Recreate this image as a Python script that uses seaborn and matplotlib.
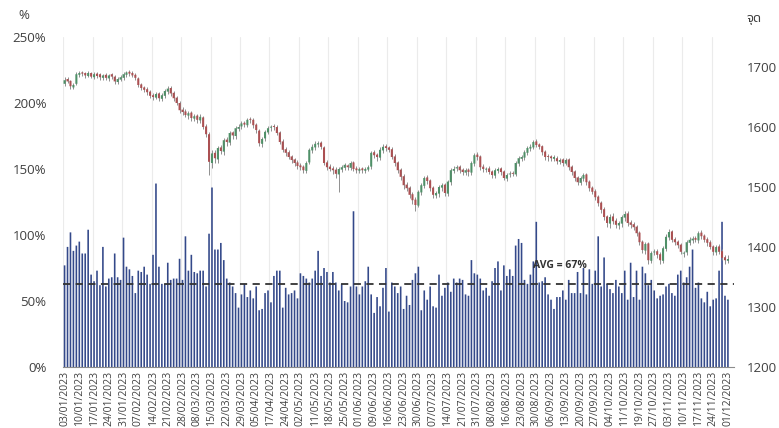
import matplotlib
matplotlib.use("Agg")
import matplotlib.pyplot as plt
import seaborn as sns
import numpy as np
import pandas as pd

# daily turnover (% of average) - left axis
turnover = [77, 91, 102, 88, 92, 95, 86, 86, 104, 70, 65, 73, 62, 91, 61, 67, 68, 86, 68, 66,
            98, 76, 74, 69, 56, 73, 72, 76, 70, 63, 85, 139, 76, 63, 63, 79, 66, 67,
            67, 82, 66, 99, 73, 85, 72, 71, 73, 73, 61, 101, 136, 89, 89, 94, 81, 67, 64, 61,
            56, 45, 55, 63, 53, 58, 52, 61, 43, 44, 56, 58, 49, 69, 73, 73, 45,
            60, 55, 56, 58, 52, 71, 69, 67, 64, 67, 73, 88, 69, 75, 72, 64, 72, 64, 58, 63,
            50, 49, 61, 118, 61, 55, 61, 65, 76, 55, 41, 53, 46, 60, 75, 42, 64, 61,
            56, 61, 44, 54, 47, 66, 71, 76, 43, 58, 51, 61, 46, 45, 70, 54, 60, 64, 57,
            67, 64, 67, 66, 55, 54, 81, 71, 70, 67, 58, 60, 54, 65, 75, 80, 58, 77, 69,
            74, 69, 92, 97, 94, 66, 63, 70, 80, 110, 64, 65, 68, 55, 51, 44, 53, 53, 58,
            51, 66, 56, 56, 72, 56, 75, 55, 74, 63, 73, 99, 61, 83, 63, 59, 56, 66, 61,
            56, 73, 51, 79, 53, 73, 51, 76, 71, 62, 66, 58, 52, 54, 55, 61, 63, 56, 54, 70,
            73, 64, 68, 76, 89, 60, 64, 52, 49, 57, 46, 51, 52, 73, 110, 54, 51]

# SET index OHLC - right axis
idx_open = [1672, 1680, 1677, 1666, 1672, 1687, 1691, 1690, 1685, 1690,
            1683, 1689, 1688, 1682, 1687, 1681, 1688, 1684, 1675,
            1679, 1682, 1687, 1692, 1690, 1687, 1681, 1671, 1666, 1663,
            1659, 1653, 1649, 1656, 1647, 1652, 1659, 1665, 1657, 1649,
            1640, 1629, 1626, 1619, 1624, 1614, 1619, 1611, 1616, 1601,
            1588, 1540, 1557, 1546, 1566, 1559, 1579, 1574, 1591, 1585,
            1597, 1601, 1607, 1603, 1613, 1612, 1604, 1594, 1572, 1581,
            1591, 1599, 1601, 1600, 1591, 1576, 1563, 1558, 1551, 1546,
            1541, 1536, 1534, 1527, 1541, 1561, 1566, 1571, 1574, 1566,
            1541, 1534, 1531, 1529, 1521, 1529, 1532, 1536, 1532,
            1541, 1531, 1527, 1531, 1527, 1529, 1534, 1558, 1554, 1549,
            1561, 1568, 1566, 1563, 1551, 1541, 1529, 1518, 1504, 1499,
            1488, 1479, 1469, 1491, 1502, 1516, 1511, 1499, 1486, 1489,
            1499, 1504, 1489, 1508, 1527, 1531, 1534, 1529, 1524,
            1529, 1524, 1539, 1554, 1551, 1534, 1529, 1531, 1526, 1519,
            1527, 1531, 1526, 1514, 1521, 1523, 1521, 1539, 1547, 1549,
            1557, 1564, 1566, 1576, 1571, 1568, 1559, 1551, 1551, 1547,
            1548, 1542, 1546, 1539, 1546, 1534, 1526, 1516, 1507,
            1514, 1521, 1509, 1499, 1493, 1484, 1474, 1463, 1451, 1439,
            1451, 1444, 1436, 1439, 1449, 1456, 1441, 1438, 1434, 1424,
            1409, 1394, 1406, 1377, 1391, 1393, 1388, 1377, 1397, 1416,
            1426, 1413, 1409, 1404, 1389, 1391, 1407, 1411, 1415,
            1411, 1424, 1419, 1413, 1408, 1401, 1391, 1401, 1393, 1383, 1377]
idx_high = [1683, 1683, 1679, 1674, 1691, 1694, 1694, 1692, 1693, 1692,
            1691, 1692, 1690, 1689, 1690, 1688, 1690, 1687, 1683,
            1686, 1691, 1694, 1695, 1693, 1690, 1684, 1674, 1669, 1666,
            1662, 1656, 1658, 1658, 1656, 1663, 1668, 1668, 1660, 1652,
            1643, 1633, 1630, 1627, 1627, 1621, 1622, 1621, 1619, 1605,
            1591, 1562, 1562, 1568, 1570, 1582, 1583, 1594, 1594, 1601,
            1605, 1610, 1610, 1615, 1617, 1615, 1607, 1597, 1584, 1595,
            1601, 1604, 1605, 1603, 1594, 1580, 1566, 1561, 1554, 1549,
            1545, 1540, 1537, 1543, 1565, 1571, 1576, 1577, 1577, 1569,
            1545, 1538, 1535, 1533, 1533, 1536, 1540, 1539, 1543,
            1544, 1535, 1534, 1534, 1533, 1536, 1560, 1562, 1557, 1566,
            1571, 1571, 1569, 1566, 1555, 1544, 1532, 1521, 1508, 1502,
            1491, 1483, 1495, 1507, 1519, 1520, 1514, 1502, 1494, 1504,
            1507, 1506, 1512, 1531, 1535, 1537, 1537, 1532, 1531,
            1532, 1543, 1557, 1558, 1554, 1538, 1533, 1535, 1529, 1531,
            1533, 1534, 1529, 1524, 1526, 1527, 1543, 1552, 1554, 1561,
            1568, 1571, 1579, 1580, 1574, 1570, 1562, 1555, 1554, 1553,
            1551, 1548, 1549, 1548, 1549, 1537, 1529, 1519, 1518,
            1524, 1524, 1512, 1502, 1496, 1487, 1477, 1466, 1454, 1455,
            1456, 1448, 1444, 1454, 1460, 1460, 1445, 1441, 1437, 1427,
            1412, 1409, 1408, 1393, 1396, 1396, 1391, 1401, 1421, 1430,
            1429, 1417, 1412, 1407, 1394, 1412, 1416, 1418, 1418,
            1427, 1428, 1422, 1416, 1411, 1404, 1404, 1405, 1396, 1387, 1386]
idx_low = [1669, 1673, 1663, 1663, 1670, 1684, 1685, 1682, 1683, 1681,
           1680, 1682, 1679, 1679, 1678, 1677, 1680, 1672, 1671,
           1676, 1679, 1684, 1685, 1683, 1679, 1667, 1661, 1658, 1654,
           1648, 1645, 1646, 1644, 1643, 1648, 1655, 1652, 1643, 1636,
           1624, 1620, 1616, 1614, 1610, 1610, 1607, 1606, 1596, 1583,
           1520, 1532, 1540, 1540, 1555, 1554, 1568, 1570, 1580, 1580,
           1593, 1597, 1600, 1600, 1607, 1599, 1590, 1568, 1566, 1576,
           1588, 1594, 1595, 1586, 1571, 1558, 1552, 1546, 1540, 1535,
           1530, 1529, 1524, 1524, 1538, 1556, 1562, 1567, 1564, 1536,
           1528, 1526, 1522, 1515, 1492, 1525, 1528, 1529, 1529,
           1526, 1524, 1524, 1523, 1524, 1526, 1530, 1548, 1544, 1545,
           1557, 1560, 1558, 1546, 1535, 1523, 1512, 1497, 1493, 1482,
           1472, 1460, 1466, 1486, 1498, 1505, 1493, 1482, 1482, 1484,
           1494, 1485, 1485, 1504, 1523, 1527, 1524, 1520, 1520,
           1519, 1520, 1535, 1545, 1528, 1525, 1525, 1521, 1515, 1515,
           1523, 1520, 1511, 1510, 1517, 1518, 1518, 1535, 1544, 1545,
           1553, 1560, 1563, 1566, 1563, 1554, 1545, 1544, 1543, 1543,
           1539, 1538, 1535, 1536, 1529, 1520, 1510, 1503, 1503,
           1510, 1503, 1494, 1488, 1479, 1468, 1457, 1445, 1433, 1432,
           1438, 1432, 1430, 1434, 1444, 1435, 1432, 1428, 1418, 1403,
           1390, 1389, 1372, 1373, 1386, 1382, 1372, 1374, 1393, 1412,
           1408, 1403, 1398, 1388, 1384, 1386, 1403, 1407, 1408,
           1407, 1413, 1408, 1402, 1396, 1387, 1386, 1388, 1378, 1372, 1374]
idx_close = [1678, 1676, 1668, 1670, 1688, 1690, 1689, 1686, 1690, 1684,
             1688, 1685, 1683, 1686, 1682, 1686, 1684, 1676, 1680,
             1683, 1688, 1691, 1689, 1686, 1682, 1670, 1665, 1662, 1658,
             1652, 1650, 1655, 1648, 1653, 1660, 1664, 1656, 1648, 1640,
             1628, 1625, 1620, 1623, 1615, 1618, 1612, 1617, 1600, 1588,
             1542, 1556, 1548, 1565, 1560, 1578, 1575, 1590, 1586, 1598,
             1600, 1606, 1604, 1612, 1612, 1603, 1595, 1573, 1580, 1592,
             1598, 1600, 1600, 1590, 1575, 1562, 1557, 1550, 1545, 1540,
             1535, 1533, 1528, 1540, 1562, 1567, 1572, 1573, 1567, 1540,
             1533, 1530, 1528, 1522, 1530, 1533, 1537, 1533, 1540,
             1530, 1528, 1530, 1528, 1530, 1533, 1557, 1553, 1550, 1562,
             1567, 1565, 1562, 1550, 1540, 1528, 1517, 1503, 1498, 1487,
             1478, 1470, 1492, 1503, 1515, 1510, 1498, 1487, 1490, 1500,
             1503, 1490, 1509, 1528, 1530, 1533, 1528, 1525, 1528,
             1525, 1540, 1553, 1550, 1533, 1530, 1530, 1525, 1520, 1528,
             1530, 1525, 1515, 1520, 1522, 1522, 1540, 1548, 1550, 1558,
             1565, 1567, 1575, 1570, 1567, 1558, 1550, 1550, 1548, 1550,
             1543, 1545, 1540, 1545, 1533, 1525, 1515, 1508, 1515,
             1520, 1508, 1498, 1492, 1483, 1473, 1462, 1450, 1440, 1450,
             1443, 1437, 1440, 1450, 1455, 1440, 1437, 1433, 1423, 1408,
             1395, 1405, 1378, 1390, 1392, 1387, 1378, 1398, 1417, 1425,
             1412, 1408, 1403, 1392, 1390, 1408, 1412, 1414, 1412,
             1423, 1418, 1412, 1407, 1400, 1392, 1400, 1392, 1382, 1378, 1380]

# weekly labels (every 5th trading day)
tick_labels = ["03/01/2023", "10/01/2023", "17/01/2023", "24/01/2023", "31/01/2023",
               "07/02/2023", "14/02/2023", "21/02/2023", "28/02/2023", "08/03/2023",
               "15/03/2023", "22/03/2023", "29/03/2023", "05/04/2023", "17/04/2023",
               "24/04/2023", "02/05/2023", "11/05/2023", "18/05/2023", "25/05/2023",
               "01/06/2023", "09/06/2023", "16/06/2023", "23/06/2023", "30/06/2023",
               "07/07/2023", "14/07/2023", "21/07/2023", "31/07/2023", "08/08/2023",
               "16/08/2023", "23/08/2023", "30/08/2023", "06/09/2023", "13/09/2023",
               "20/09/2023", "27/09/2023", "04/10/2023", "11/10/2023", "19/10/2023",
               "27/10/2023", "03/11/2023", "10/11/2023", "17/11/2023", "24/11/2023",
               "01/12/2023"]
avg_level = 63
avg_text = "AVG = 67%"

n = len(turnover)
days = np.arange(n)
df = pd.DataFrame({"day": days, "turnover": turnover})

sns.set_style("white")
plt.rcParams["font.family"] = ["Open Sans", "DejaVu Sans"]
txt = "#404040"

fig = plt.figure(figsize=(7.79, 4.28), dpi=100)
ax = fig.add_axes([0.081, 0.1425, 0.861, 0.771])

sns.barplot(data=df, x="day", y="turnover", color="#34498a", width=0.55,
            saturation=1, linewidth=0, edgecolor="none", ax=ax, zorder=2)
# thin bars: turn off pixel snapping so none disappear
for p in ax.patches:
    p.set_snap(False)
ax.axhline(avg_level, color="#333333", lw=1.3, ls=(0, (4, 3)), zorder=4)
ax.text(159, avg_level + 14, avg_text, fontsize=7.5, fontweight="bold",
        color="#333333", va="center", zorder=5)

ax.set_ylim(0, 250)
ax.set_yticks(range(0, 251, 50))
ax.set_yticklabels([f"{v}%" for v in range(0, 251, 50)])
ax.set_xlim(-0.45, 227)
ax.set_xticks(range(0, n, 5))
ax.set_xticklabels(tick_labels, rotation=90, fontsize=7.5, color=txt)
ax.set_xticks(np.arange(-0.5, n, 10), minor=True)
ax.grid(which="minor", axis="x", color="#ebebeb", lw=0.8)
ax.set_axisbelow(True)
ax.tick_params(axis="y", length=0, labelsize=9.5, labelcolor=txt, pad=12)
ax.tick_params(axis="x", which="both", length=0, pad=3)
ax.set_xlabel("")
ax.set_ylabel("")
for s in ["top", "right", "left"]:
    ax.spines[s].set_visible(False)
ax.spines["bottom"].set_color("#8c8c8c")
fig.text(0.023, 0.955, "%", fontsize=9.5, color=txt)

# candlesticks on the right axis
ax2 = ax.twinx()
o = np.array(idx_open)
c = np.array(idx_close)
up = c >= o
body_col = np.where(up, "#4f9068", "#ab5052")
ax2.vlines(days, idx_low, idx_high, color="#8f8f8f", lw=0.7, zorder=3)
bodies = ax2.bar(days, np.maximum(np.abs(c - o), 1.5), bottom=np.minimum(o, c),
                 width=0.7, color=body_col, edgecolor="none", zorder=4)
for p in bodies:
    p.set_snap(False)
ax2.set_ylim(1200, 1750)
ax2.set_yticks(range(1200, 1701, 100))
ax2.tick_params(axis="y", length=0, labelsize=9.5, labelcolor=txt, pad=9)
for s in ["top", "right", "left", "bottom"]:
    ax2.spines[s].set_visible(False)
fig.text(0.968, 0.948, "จุด", fontsize=9.5, color=txt, ha="center",
         family=["Noto Sans Thai", "Loma", "Garuda", "DejaVu Sans"])

fig.savefig("out.png", dpi=100)
